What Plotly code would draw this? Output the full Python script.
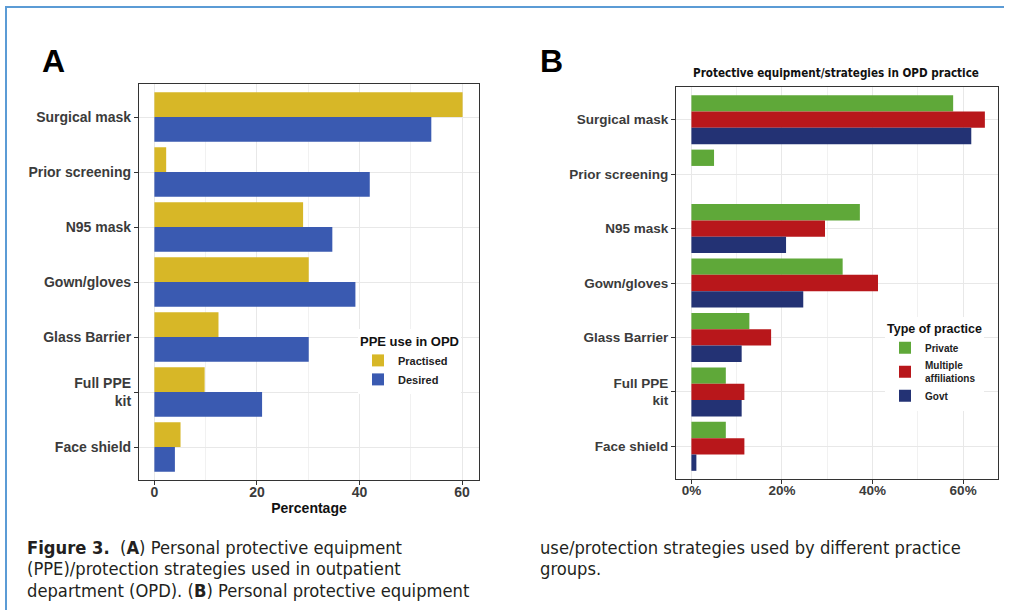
import plotly.graph_objects as go

# ---- data -------------------------------------------------------------
categories = ["Surgical mask", "Prior screening", "N95 mask", "Gown/gloves",
              "Glass Barrier", "Full PPE<br>kit", "Face shield"]

# Panel A: PPE use in OPD (percentage of respondents)
practised = [60.1, 2.3, 29.0, 30.1, 12.5, 9.8, 5.1]
desired = [54.0, 42.0, 34.7, 39.2, 30.1, 21.0, 4.0]

# Panel B: by type of practice (%)
private = [57.8, 5.0, 37.2, 33.4, 12.8, 7.6, 7.6]
multiple_aff = [64.8, 0.0, 29.5, 41.2, 17.6, 11.7, 11.7]
govt = [61.8, 0.0, 20.9, 24.7, 11.1, 11.1, 1.1]

x_ticks = [0, 20, 40, 60]
x_ticklabels_a = ["0", "20", "40", "60"]
x_ticklabels_b = ["0%", "20%", "40%", "60%"]

# ---- styling ----------------------------------------------------------
W, H = 1010, 610
SANS = "Liberation Sans, Arial, Helvetica, sans-serif"
COND = "DejaVu Sans Condensed, Liberation Sans Narrow, sans-serif"
GOLD, BLUE = "#d7b727", "#3a5ab1"
GREEN, RED, NAVY = "#5fa839", "#b8171b", "#233274"
TXT = "#3b3b3b"


def fx(px):
    return px / W


def fy(py):
    return 1 - py / H


fig = go.Figure()

fig.add_trace(go.Bar(y=categories, x=practised, name="Practised", orientation="h",
                     marker=dict(color=GOLD, line=dict(width=0)),
                     xaxis="x", yaxis="y", legend="legend"))
fig.add_trace(go.Bar(y=categories, x=desired, name="Desired", orientation="h",
                     marker=dict(color=BLUE, line=dict(width=0)),
                     xaxis="x", yaxis="y", legend="legend"))

fig.add_trace(go.Bar(y=categories, x=private, name="Private", orientation="h",
                     marker=dict(color=GREEN, line=dict(width=0)),
                     xaxis="x2", yaxis="y2", legend="legend2"))
fig.add_trace(go.Bar(y=categories, x=multiple_aff, name="Multiple<br>affiliations",
                     orientation="h", marker=dict(color=RED, line=dict(width=0)),
                     xaxis="x2", yaxis="y2", legend="legend2"))
fig.add_trace(go.Bar(y=categories, x=govt, name="Govt", orientation="h",
                     marker=dict(color=NAVY, line=dict(width=0)),
                     xaxis="x2", yaxis="y2", legend="legend2"))

common_x = dict(
    showline=True, mirror=True, linecolor="#333333", linewidth=1.2,
    ticks="outside", ticklen=4, tickwidth=1, tickcolor="#333333",
    ticklabelstandoff=-5,
    showgrid=True, gridcolor="#e8e8e8", gridwidth=1,
    minor=dict(dtick=10, showgrid=True, gridcolor="#f1f1f1", gridwidth=0.8),
    zeroline=False, tickmode="array", tickvals=x_ticks,
    tickfont=dict(family=SANS, size=14, color=TXT, weight="bold"),
)
common_y = dict(
    type="category", categoryorder="array", categoryarray=categories,
    range=[6.6, -0.6],
    showline=True, mirror=True, linecolor="#333333", linewidth=1.2,
    ticks="outside", ticklen=4, tickwidth=1, tickcolor="#333333",
    showgrid=True, gridcolor="#e8e8e8", gridwidth=1, zeroline=False,
    tickfont=dict(family=SANS, size=14, color=TXT, weight="bold"),
)

fig.update_layout(
    width=W, height=H,
    margin=dict(l=0, r=0, t=0, b=0),
    paper_bgcolor="white", plot_bgcolor="white",
    barmode="group", bargap=0.1, bargroupgap=0,
    xaxis=dict(common_x, domain=[fx(139), fx(479)], range=[-3.0, 63.3],
               anchor="y", ticktext=x_ticklabels_a,
               title=dict(text="Percentage", standoff=4,
                          font=dict(family=SANS, size=14, color="#111111",
                                    weight="bold"))),
    yaxis=dict(common_y, domain=[fy(480), fy(84)], anchor="x"),
    xaxis2=dict(common_x, domain=[fx(676), fx(998)], range=[-3.4, 67.7],
                anchor="y2", ticktext=x_ticklabels_b,
                tickfont=dict(family=SANS, size=13.5, color=TXT, weight="bold")),
    yaxis2=dict(common_y, domain=[fy(479), fy(87)], anchor="x2",
                tickfont=dict(family=SANS, size=13.5, color=TXT, weight="bold")),
    legend=dict(
        x=fx(358), y=fy(329), xanchor="left", yanchor="top",
        bgcolor="white", borderwidth=0, traceorder="normal",
        title=dict(text="PPE use in OPD",
                   font=dict(family=SANS, size=13, color="#111111", weight="bold")),
        font=dict(family=SANS, size=11, color="#222222", weight="bold"),
        tracegroupgap=0,
    ),
    legend2=dict(
        x=fx(885), y=fy(317), xanchor="left", yanchor="top",
        bgcolor="white", borderwidth=0, traceorder="normal",
        title=dict(text="Type of practice",
                   font=dict(family=SANS, size=12.5, color="#111111", weight="bold")),
        font=dict(family=SANS, size=10, color="#222222", weight="bold"),
        tracegroupgap=0,
    ),
)

# page frame (blue rule at top and left)
fig.add_shape(type="line", xref="paper", yref="paper",
              x0=fx(5), x1=fx(1004), y0=fy(7), y1=fy(7),
              line=dict(color="#5b9bd5", width=2))
fig.add_shape(type="line", xref="paper", yref="paper",
              x0=fx(6), x1=fx(6), y0=fy(7), y1=0,
              line=dict(color="#5b9bd5", width=2))

# panel letters and panel B heading
for letter, xpx in (("A", 40), ("B", 538)):
    fig.add_annotation(text=letter, xref="paper", yref="paper",
                       x=fx(xpx), y=fy(61), xanchor="left", yanchor="middle",
                       showarrow=False,
                       font=dict(family=SANS, size=32, color="black", weight="bold"))

fig.add_annotation(text="Protective equipment/strategies in OPD practice",
                   xref="paper", yref="paper", x=fx(836), y=fy(73),
                   xanchor="center", yanchor="middle", showarrow=False,
                   font=dict(family=COND, size=11.6, color="#111111", weight="bold"))

# figure caption
left_lines = [
    "<b>Figure 3.</b>  (<b>A</b>) Personal protective equipment",
    "(PPE)/protection strategies used in outpatient",
    "department (OPD). (<b>B</b>) Personal protective equipment",
]
right_lines = [
    "use/protection strategies used by different practice",
    "groups.",
]
for i, line in enumerate(left_lines):
    fig.add_annotation(text=line, xref="paper", yref="paper",
                       x=fx(25), y=fy(547 + 21.5 * i), xanchor="left",
                       yanchor="middle", showarrow=False,
                       font=dict(family=COND, size=18.2, color="#231f20"))
for i, line in enumerate(right_lines):
    fig.add_annotation(text=line, xref="paper", yref="paper",
                       x=fx(538), y=fy(547 + 21.5 * i), xanchor="left",
                       yanchor="middle", showarrow=False,
                       font=dict(family=COND, size=18.2, color="#231f20"))

fig.write_html("out.html")
